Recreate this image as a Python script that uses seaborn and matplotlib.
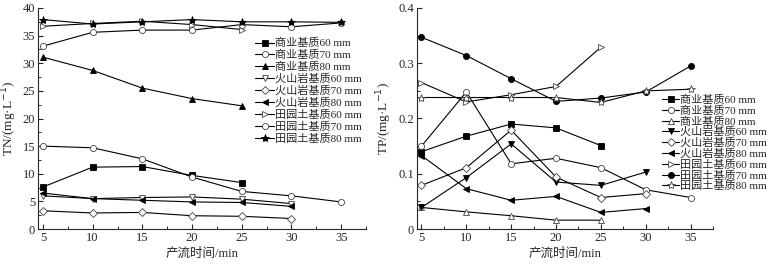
import matplotlib
matplotlib.use("Agg")
import matplotlib.pyplot as plt
import seaborn as sns
import numpy as np
import pandas as pd
from matplotlib.ticker import MultipleLocator, FuncFormatter

sns.set_style("ticks")
plt.rcParams['font.family'] = ['Liberation Serif', 'Noto Sans CJK SC', 'DejaVu Sans']
plt.rcParams['axes.unicode_minus'] = False

times = [5, 10, 15, 20, 25, 30, 35]
labels = ["商业基质60 mm", "商业基质70 mm", "商业基质80 mm",
          "火山岩基质60 mm", "火山岩基质70 mm", "火山岩基质80 mm",
          "田园土基质60 mm", "田园土基质70 mm", "田园土基质80 mm"]

# TN (mg/L)
tn_sy60 = [7.6, 11.2, 11.3, 9.7, 8.4]
tn_sy70 = [15.0, 14.7, 12.7, 9.4, 6.8, 6.0, 4.9]
tn_sy80 = [31.1, 28.7, 25.5, 23.6, 22.3]
tn_hs60 = [6.0, 5.5, 5.7, 5.8, 5.4, 4.6]
tn_hs70 = [3.3, 2.9, 3.0, 2.4, 2.3, 1.9]
tn_hs80 = [6.5, 5.5, 5.2, 4.9, 4.8, 4.1]
tn_ty60 = [36.7, 37.2, 37.6, 37.0, 36.1]
tn_ty70 = [33.1, 35.6, 36.0, 36.0, 37.0, 36.6, 37.3]
tn_ty80 = [37.9, 37.1, 37.5, 37.9, 37.5, 37.5, 37.4]

# TP (mg/L)
tp_sy60 = [0.140, 0.168, 0.190, 0.183, 0.151]
tp_sy70 = [0.150, 0.248, 0.118, 0.128, 0.111, 0.071, 0.057]
tp_sy80 = [0.039, 0.031, 0.024, 0.016, 0.016]
tp_hs60 = [0.039, 0.093, 0.154, 0.085, 0.079, 0.103]
tp_hs70 = [0.079, 0.111, 0.179, 0.094, 0.057, 0.064]
tp_hs80 = [0.133, 0.073, 0.052, 0.059, 0.030, 0.037]
tp_ty60 = [0.265, 0.230, 0.243, 0.258, 0.329]
tp_ty70 = [0.347, 0.314, 0.272, 0.231, 0.237, 0.248, 0.295]
tp_ty80 = [0.238, 0.238, 0.238, 0.238, 0.229, 0.250, 0.253]

tn_series = [tn_sy60, tn_sy70, tn_sy80, tn_hs60, tn_hs70, tn_hs80, tn_ty60, tn_ty70, tn_ty80]
tp_series = [tp_sy60, tp_sy70, tp_sy80, tp_hs60, tp_hs70, tp_hs80, tp_ty60, tp_ty70, tp_ty80]

tn_styles = [('s', True), ('o', False), ('^', True), ('v', False), ('D', False),
             ('<', True), ('>', False), ('o', False), ('*', True)]
tp_styles = [('s', True), ('o', False), ('^', False), ('v', True), ('D', False),
             ('<', True), ('>', False), ('o', True), ('*', False)]

fig = plt.figure(figsize=(7.74, 2.66), dpi=100)
ax1 = fig.add_axes([38/774, 1-229/266, (366-38)/774, (229-8)/266])
ax2 = fig.add_axes([417/774, 1-229/266, (713-417)/774, (229-8)/266])

def draw(ax, series, styles):
    for vals, (m, filled), lab in zip(series, styles, labels):
        df = pd.DataFrame({'t': times[:len(vals)], 'v': vals})
        ms = 6 if m == '*' else (3.8 if m == 'D' else 4.4)
        sns.lineplot(data=df, x='t', y='v', ax=ax, color='black', lw=0.8,
                     marker=m, markersize=ms,
                     markerfacecolor='black' if filled else 'white',
                     markeredgecolor='black' if filled else '#444444',
                     markeredgewidth=0.6, label=lab, legend=False)

draw(ax1, tn_series, tn_styles)
draw(ax2, tp_series, tp_styles)

for ax in (ax1, ax2):
    sns.despine(ax=ax)
    ax.set_xlim(4.5, 37.5)
    ax.xaxis.set_major_locator(MultipleLocator(5))
    ax.xaxis.set_minor_locator(MultipleLocator(2.5))
    ax.tick_params(which='both', direction='in', labelsize=9, pad=2)
    ax.tick_params(which='major', length=3.5, width=0.8)
    ax.tick_params(which='minor', length=2, width=0.7)
    for s in ('left', 'bottom'):
        ax.spines[s].set_linewidth(0.8)
    ax.set_xlabel('产流时间/min', fontsize=9, labelpad=3)

ax1.set_ylim(0, 40)
ax1.yaxis.set_major_locator(MultipleLocator(5))
ax1.yaxis.set_minor_locator(MultipleLocator(2.5))
ax1.set_ylabel('TN/(mg·L$^{-1}$)', fontsize=9.5, labelpad=3)
ax1.legend(frameon=False, fontsize=8, handlelength=1.7, handletextpad=0.1,
           labelspacing=0.14, borderpad=0, loc='upper left',
           bbox_to_anchor=(0.645, 0.889))

ax2.set_ylim(0, 0.4)
ax2.yaxis.set_major_locator(MultipleLocator(0.1))
ax2.yaxis.set_minor_locator(MultipleLocator(0.05))
ax2.yaxis.set_major_formatter(FuncFormatter(lambda v, p: '0' if abs(v) < 1e-9 else f'{v:.1f}'))
ax2.set_ylabel('TP/(mg·L$^{-1}$)', fontsize=9.5, labelpad=3)
ax2.legend(frameon=False, fontsize=8, handlelength=1.5, handletextpad=0.1,
           labelspacing=0.04, borderpad=0, loc='upper left',
           bbox_to_anchor=(0.81, 0.633))

fig.savefig('out.png', dpi=100)
